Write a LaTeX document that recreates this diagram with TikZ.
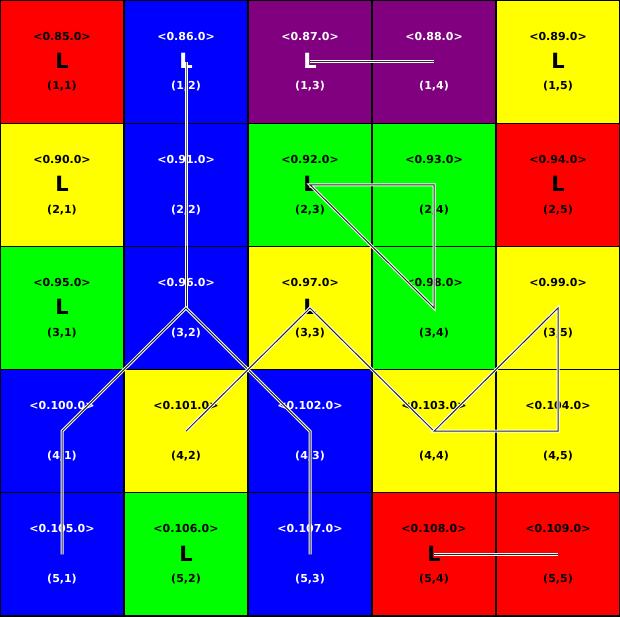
\documentclass[tikz,border=0pt]{standalone}
\usepackage{fontspec}
\setmainfont{DejaVu Sans}
\definecolor{cR}{HTML}{FF0000}
\definecolor{cB}{HTML}{0000FF}
\definecolor{cP}{HTML}{800080}
\definecolor{cY}{HTML}{FFFF00}
\definecolor{cG}{HTML}{00FF00}
\tikzset{
  cellbox/.style={draw=black, line width=1.2pt, minimum width=124pt, minimum height=123.2pt, inner sep=0pt, outer sep=0pt},
  idtext/.style={font=\bfseries\fontsize{11}{13}\selectfont, anchor=base, inner sep=0pt},
  ltext/.style={font=\bfseries\fontsize{21}{24}\selectfont, anchor=base, inner sep=0pt},
  link/.style={draw=white, line width=1pt, double=black!85, double distance=1pt, line join=miter}
}
\begin{document}
\begin{tikzpicture}[x=1pt,y=-1pt]
\useasboundingbox (0,0) rectangle (620,616);
\foreach \r/\j/\c/\tc in {
  1/1/cR/black,1/2/cB/white,1/3/cP/white,1/4/cP/white,1/5/cY/black,
  2/1/cY/black,2/2/cB/white,2/3/cG/black,2/4/cG/black,2/5/cR/black,
  3/1/cG/black,3/2/cB/white,3/3/cY/black,3/4/cG/black,3/5/cY/black,
  4/1/cB/white,4/2/cY/black,4/3/cB/white,4/4/cY/black,4/5/cY/black,
  5/1/cB/white,5/2/cG/black,5/3/cB/white,5/4/cR/black,5/5/cR/black}{
    \pgfmathsetmacro{\xc}{124*(\j-1)+62}
    \pgfmathsetmacro{\yc}{123.2*(\r-1)+61.6}
    \pgfmathtruncatemacro{\num}{85+5*(\r-1)+\j-1}
    \node[cellbox, fill=\c] (cell-\r-\j) at (\xc,\yc) {};
    \coordinate (p-\r-\j) at (\xc,\yc);
    \node[idtext, text=\tc] (lab-\r-\j) at (\xc,{\yc-21.6}) {<0.\num.0>};
    \node[idtext, text=\tc] (pos-\r-\j) at (\xc,{\yc+28.2}) {(\r,\j)};
}
% L markers
\foreach \r/\j/\tc in {1/1/black,1/2/white,1/3/white,1/5/black,2/1/black,2/3/black,2/5/black,3/1/black,3/3/black,5/2/black,5/4/black}{
  \pgfmathsetmacro{\xc}{124*(\j-1)+62}
  \pgfmathsetmacro{\yc}{123.2*(\r-1)+61.6}
  \node[ltext, text=\tc] (L-\r-\j) at (\xc,{\yc+6.9}) {L};
}
% connectors
\draw[link] (p-1-2) -- (p-2-2) -- (p-3-2);
\draw[link] (p-5-1) -- (p-4-1) -- (p-3-2) -- (p-4-3) -- (p-5-3);
\draw[link] (p-1-3) -- (p-1-4);
\draw[link] (p-2-3) -- (p-2-4) -- (p-3-4) -- cycle;
\draw[link] (p-4-2) -- (p-3-3) -- (p-4-4);
\draw[link] (p-4-4) -- (p-3-5) -- (p-4-5) -- cycle;
\draw[link] (p-5-4) -- (p-5-5);
\end{tikzpicture}
\end{document}
